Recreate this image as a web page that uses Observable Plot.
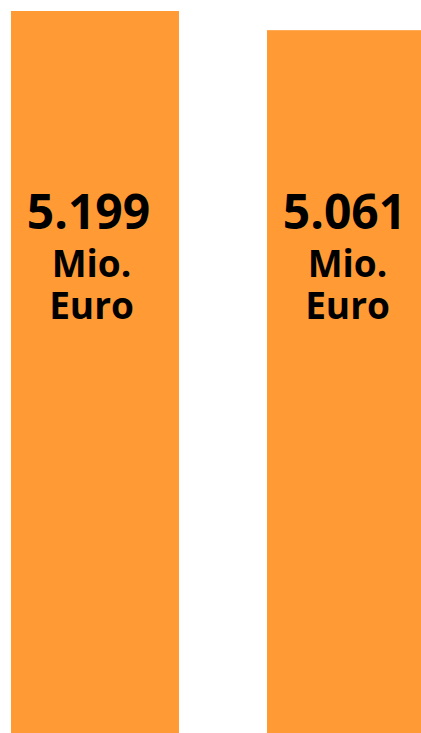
<!DOCTYPE html>
<html>
<head>
<meta charset="utf-8">
<script src="https://cdn.jsdelivr.net/npm/d3@7"></script>
<script src="https://cdn.jsdelivr.net/npm/@observablehq/plot@0.6"></script>
<style>
  html, body { margin: 0; padding: 0; background: #fff; overflow: hidden; }
  #chart { width: 421px; height: 733px; overflow: hidden; }
  #chart svg { overflow: hidden; }
</style>
</head>
<body>
<div id="chart"></div>
<script>
const categories = ["Balken 1", "Balken 2"];
const values = [5199, 5061];
const valueLabels = ["5.199", "5.061"];
const unitLabels = ["Mio.\nEuro", "Mio.\nEuro"];

const data = categories.map((c, i) => ({
  category: c, value: values[i], label: valueLabels[i], unit: unitLabels[i]
}));

const orange = "#FF9A35";
const font = "'Open Sans', 'DejaVu Sans', sans-serif";

const chart = Plot.plot({
  width: 421,
  height: 733,
  margin: 0,
  style: { fontFamily: font, background: "#fff" },
  x: { type: "band", domain: categories, range: [11, 435], paddingInner: 0.34375, paddingOuter: 0, axis: null },
  y: { domain: [0, 5199], range: [733, 11], axis: null },
  marks: [
    Plot.barY(data, { x: "category", y: "value", fill: orange }),
    Plot.text(data, {
      x: "category", text: "label", frameAnchor: "top", lineAnchor: "bottom",
      dy: 228, dx: -7, fontSize: 48, fontWeight: 700, fill: "#000"
    }),
    Plot.text(data, {
      x: "category", text: "unit", frameAnchor: "top", lineAnchor: "bottom",
      dy: 318, dx: -4, fontSize: 37, fontWeight: 700, lineHeight: 42 / 37, fill: "#000"
    })
  ]
});
document.getElementById("chart").append(chart);
</script>
</body>
</html>
